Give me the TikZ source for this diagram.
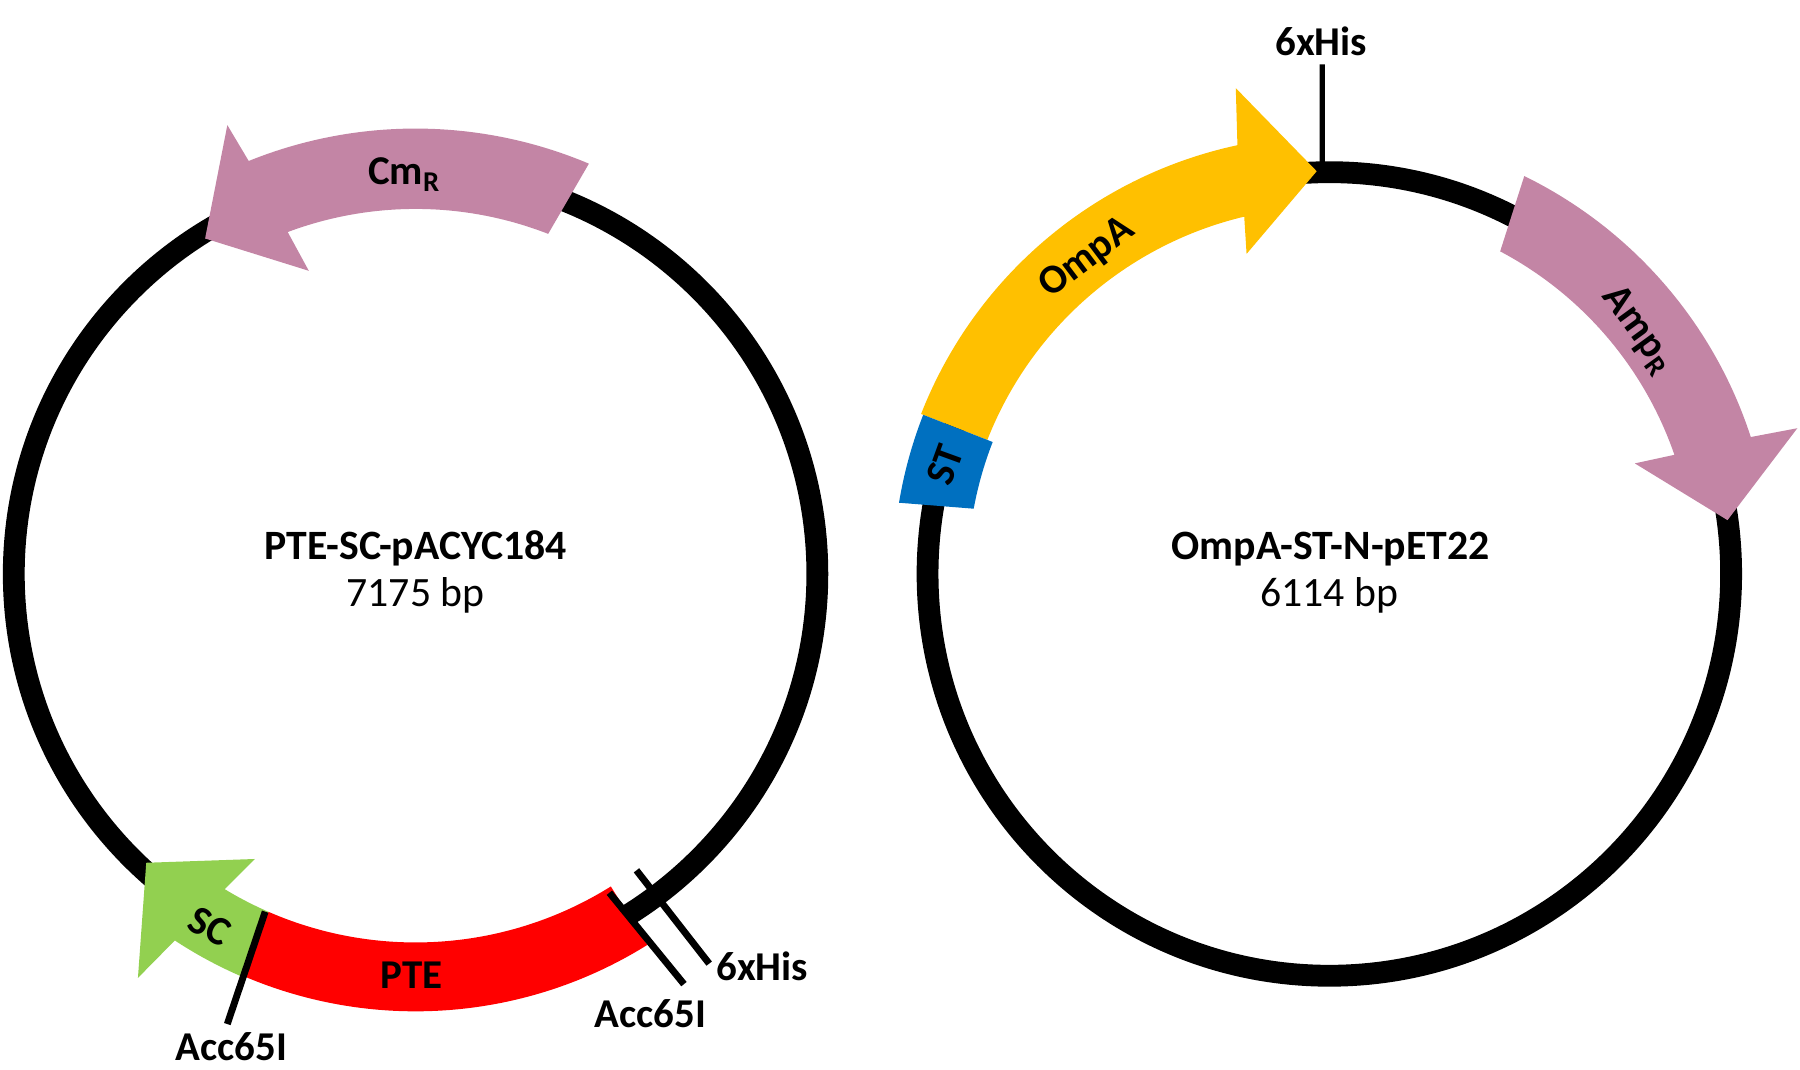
\documentclass[tikz,border=0pt]{standalone}
\usepackage{fontspec}
\setmainfont{Carlito}
\definecolor{resist}{RGB}{195,133,165}
\definecolor{ompa}{RGB}{255,192,0}
\definecolor{sttag}{RGB}{0,112,192}
\definecolor{scgreen}{RGB}{146,208,80}
\definecolor{pte}{RGB}{255,0,0}

\begin{document}
\begin{tikzpicture}[
  x=0.02cm, y=0.02cm,
  ring/.style={draw=black, line width=0.38cm},
  site/.style={draw=black, line width=0.12cm},
  hisline/.style={draw=black, line width=0.09cm},
  tag/.style={font=\fontsize{20.3}{24}\selectfont\bfseries, inner sep=0pt},
  title/.style={font=\fontsize{20.7}{24}\selectfont\bfseries, anchor=base, inner sep=0pt},
  bpsize/.style={font=\fontsize{20.7}{24}\selectfont, anchor=base, inner sep=0pt}
]

\useasboundingbox (0,0) rectangle (1568,932);

\begin{scope}[shift={(362,432)}]
  \draw[ring] (0,0) circle[radius=350];
  \fill[resist] (67.1:388) arc[start angle=67.1, end angle=112, radius=388]
    -- (112.75:424) -- (122.1:345) -- (109.4:280) -- (110.5:318)
    arc[start angle=110.5, end angle=68.7, radius=318] -- cycle;
  \fill[scgreen] (240.6:285) -- (227:344) -- (235.5:427) -- (236.7:382)
    arc[start angle=236.7, end angle=246.5, radius=382] -- (246.5:321)
    arc[start angle=246.5, end angle=238.8, radius=321] -- cycle;
  \fill[pte] (246.5:321) -- (246.5:381)
    arc[start angle=246.5, end angle=302, radius=381] -- (302:321)
    arc[start angle=302, end angle=246.5, radius=321] -- cycle;
  \coordinate (accLin) at (246:322);
  \coordinate (accLout) at (247.3:425);
  \coordinate (accRin) at (301.3:325);
  \coordinate (accRout) at (303.2:427);
  \coordinate (hisLin) at (306.7:322);
  \coordinate (hisLout) at (307:425);
\end{scope}

\begin{scope}[shift={(1158,432)}]
  \draw[ring] (0,0) circle[radius=350];
  \fill[ompa] (158.6:382) arc[start angle=158.6, end angle=102.1, radius=382]
    -- (100.9:431) -- (91.8:351) -- (104.5:288) -- (103.4:320)
    arc[start angle=103.4, end angle=158.6, radius=320] -- cycle;
  \fill[sttag] (158.6:380) arc[start angle=158.6, end angle=170.6, radius=380]
    -- (169.6:315) arc[start angle=169.6, end angle=158.6, radius=315] -- cycle;
  \fill[resist] (63.9:386) arc[start angle=63.9, end angle=18, radius=386]
    -- (17.3:427) -- (7.7:350) -- (19.9:283) -- (19.05:318)
    arc[start angle=19.05, end angle=62.1, radius=318] -- cycle;
  \coordinate (hisRin) at (91:350);
  \coordinate (hisRout) at (90.8:444);
\end{scope}

\draw[site] (accLin) -- (accLout);
\draw[site] (accRin) -- (accRout);
\draw[site] (hisLin) -- (hisLout);
\draw[hisline] (hisRin) -- (hisRout);

\node[title] (ltitle) at (362,445) {PTE-SC-pACYC184};
\node[bpsize] (lsize) at (362,403.6) {7175 bp};
\node[title] (rtitle) at (1159,445) {OmpA-ST-N-pET22};
\node[bpsize] (rsize) at (1158,403.6) {6114 bp};

\node[tag] (cm) at (352,780) {Cm\textsubscript{R}};
\node[tag] (pteL) at (358.6,82.7) {PTE};
\node[tag, rotate=-28] (sc) at (183,125.4) {SC};
\node[tag] (accL) at (201.8,20) {Acc65I};
\node[tag] (accR) at (566.8,49.3) {Acc65I};
\node[tag] (hisL) at (664,90) {6xHis};

\node[tag, rotate=37] (omp) at (947,707) {OmpA};
\node[tag, rotate=70] (st) at (823.2,527) {ST};
\node[tag, rotate=-54] (amp) at (1427,644.5) {Amp\textsubscript{R}};
\node[tag] (hisR) at (1151,895.7) {6xHis};

\end{tikzpicture}
\end{document}
